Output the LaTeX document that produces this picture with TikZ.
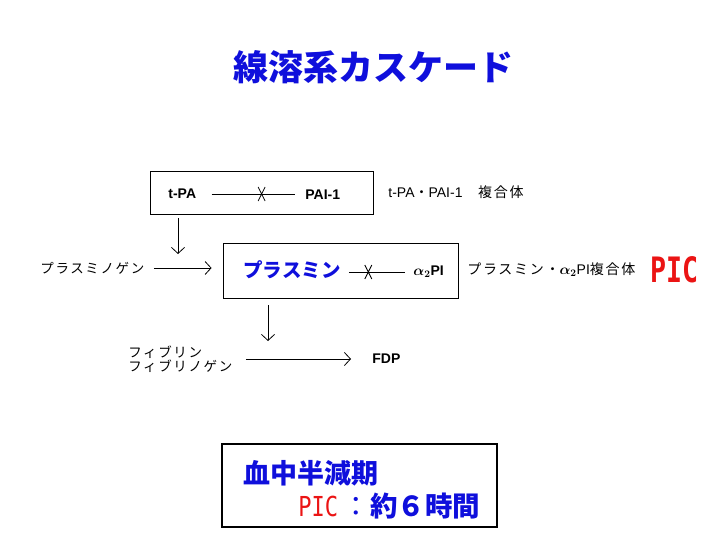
\documentclass[tikz,border=0pt]{standalone}
\usepackage{amsmath}
\usepackage{fontspec}
\setmainfont{Liberation Sans}
\newfontfamily\jp{Noto Sans CJK JP}
\newfontfamily\jpwide[LetterSpace=12]{Noto Sans CJK JP}
\newfontfamily\gothicmono{DejaVu Sans Mono}
\usepackage{graphicx}
\usepackage{xcolor}
\usepackage{tikz}
\usetikzlibrary{arrows.meta}
\definecolor{titleblue}{RGB}{15,15,220}
\definecolor{picred}{RGB}{235,20,20}
\tikzset{blockmark/.pic={\draw (-3.5,-7)--(3.5,7) (3.5,-7)--(-3.5,7);}}

\begin{document}
\begin{tikzpicture}[x=1pt,y=-1pt,>={Straight Barb[length=6pt,width=13pt]},line width=0.8pt,
  txt/.style={anchor=west,inner sep=0pt},
  small/.style={txt,font=\jp\fontsize{13}{15}\selectfont},
  inbox/.style={txt,font=\bfseries\fontsize{14}{16}\selectfont}]
\useasboundingbox (0,0) rectangle (720,540);
% title
\node[font=\jp\bfseries\fontsize{35}{37}\selectfont,text=titleblue] (title) at (373,67) {線溶系カスケード};
% t-PA / PAI-1
\node[draw,minimum width=223pt,minimum height=43pt] (box1) at (261.5,192.5) {};
\node[inbox] (tpa) at (168,194) {t-PA};
\node[inbox] (pai) at (305,195) {PAI-1};
\draw[shorten <=15pt,shorten >=10pt] (tpa) -- (tpa -| pai.west) coordinate[pos=0.6] (cut1);
\pic at (cut1) {blockmark};
\node[small,font=\fontsize{14}{16}\selectfont] (tpapai) at (388,192) {t-PA{\jpwide ・}PAI-1{\jpwide 　複合体}};
% plasmin / alpha2 PI
\node[draw,minimum width=235pt,minimum height=55pt] (box2) at (340.5,270.5) {};
\node[txt,font=\jp\bfseries\fontsize{19.5}{21}\selectfont,text=titleblue] (plm) at (243,270) {プラスミン};
\node[inbox] (a2pi) at (413,272) {$\boldsymbol{\alpha_2}$PI};
\draw[shorten <=8pt,shorten >=8pt] (plm.east |- a2pi) -- (a2pi) coordinate[pos=0.38] (cut2);
\pic at (cut2) {blockmark};
\node[small,font=\fontsize{14}{16}\selectfont] (plmcx) at (467,270) {{\jpwide プラスミン・}$\boldsymbol{\alpha_2}$PI{\jpwide 複合体}};
\node[txt,text=picred] (pic) at (650,270) {\gothicmono\bfseries\fontsize{35}{37}\selectfont\scalebox{0.76}[1]{PIC}};
% plasminogen
\node[small,font=\jpwide\fontsize{13.5}{15}\selectfont] (pgn) at (40,268) {プラスミノゲン};
\draw[->,shorten <=9pt,shorten >=11pt] (pgn.east) -- (pgn.east -| box2.west);
\coordinate (join1) at (178,254);
\draw[->,shorten <=4pt] (box1.south -| join1) -- (join1);
% fibrin -> FDP
\node[small,font=\jpwide\fontsize{13.5}{14}\selectfont,align=left] (fib) at (128,359) {フィブリン\\フィブリノゲン};
\node[inbox] (fdp) at (372,359) {FDP};
\draw[->,shorten <=13pt,shorten >=21pt] (fib.east) -- (fdp.west);
\coordinate (join2) at (268,341);
\draw[->,shorten <=7pt] (box2.south -| join2) -- (join2);
% half life
\node[draw,line width=2.5pt,minimum width=275pt,minimum height=83pt] (box3) at (359.5,485.5) {};
\node[txt,font=\jp\bfseries\fontsize{27}{29}\selectfont,text=titleblue] (half) at (243,473) {血中半減期};
\node[txt,font=\jp\bfseries\fontsize{27.5}{29}\selectfont,text=titleblue] (life) at (298,506) {\textcolor{picred}{\gothicmono\mdseries\scalebox{0.8}[1]{PIC}}\,{\mdseries ：}約６時間};
\end{tikzpicture}
\end{document}
